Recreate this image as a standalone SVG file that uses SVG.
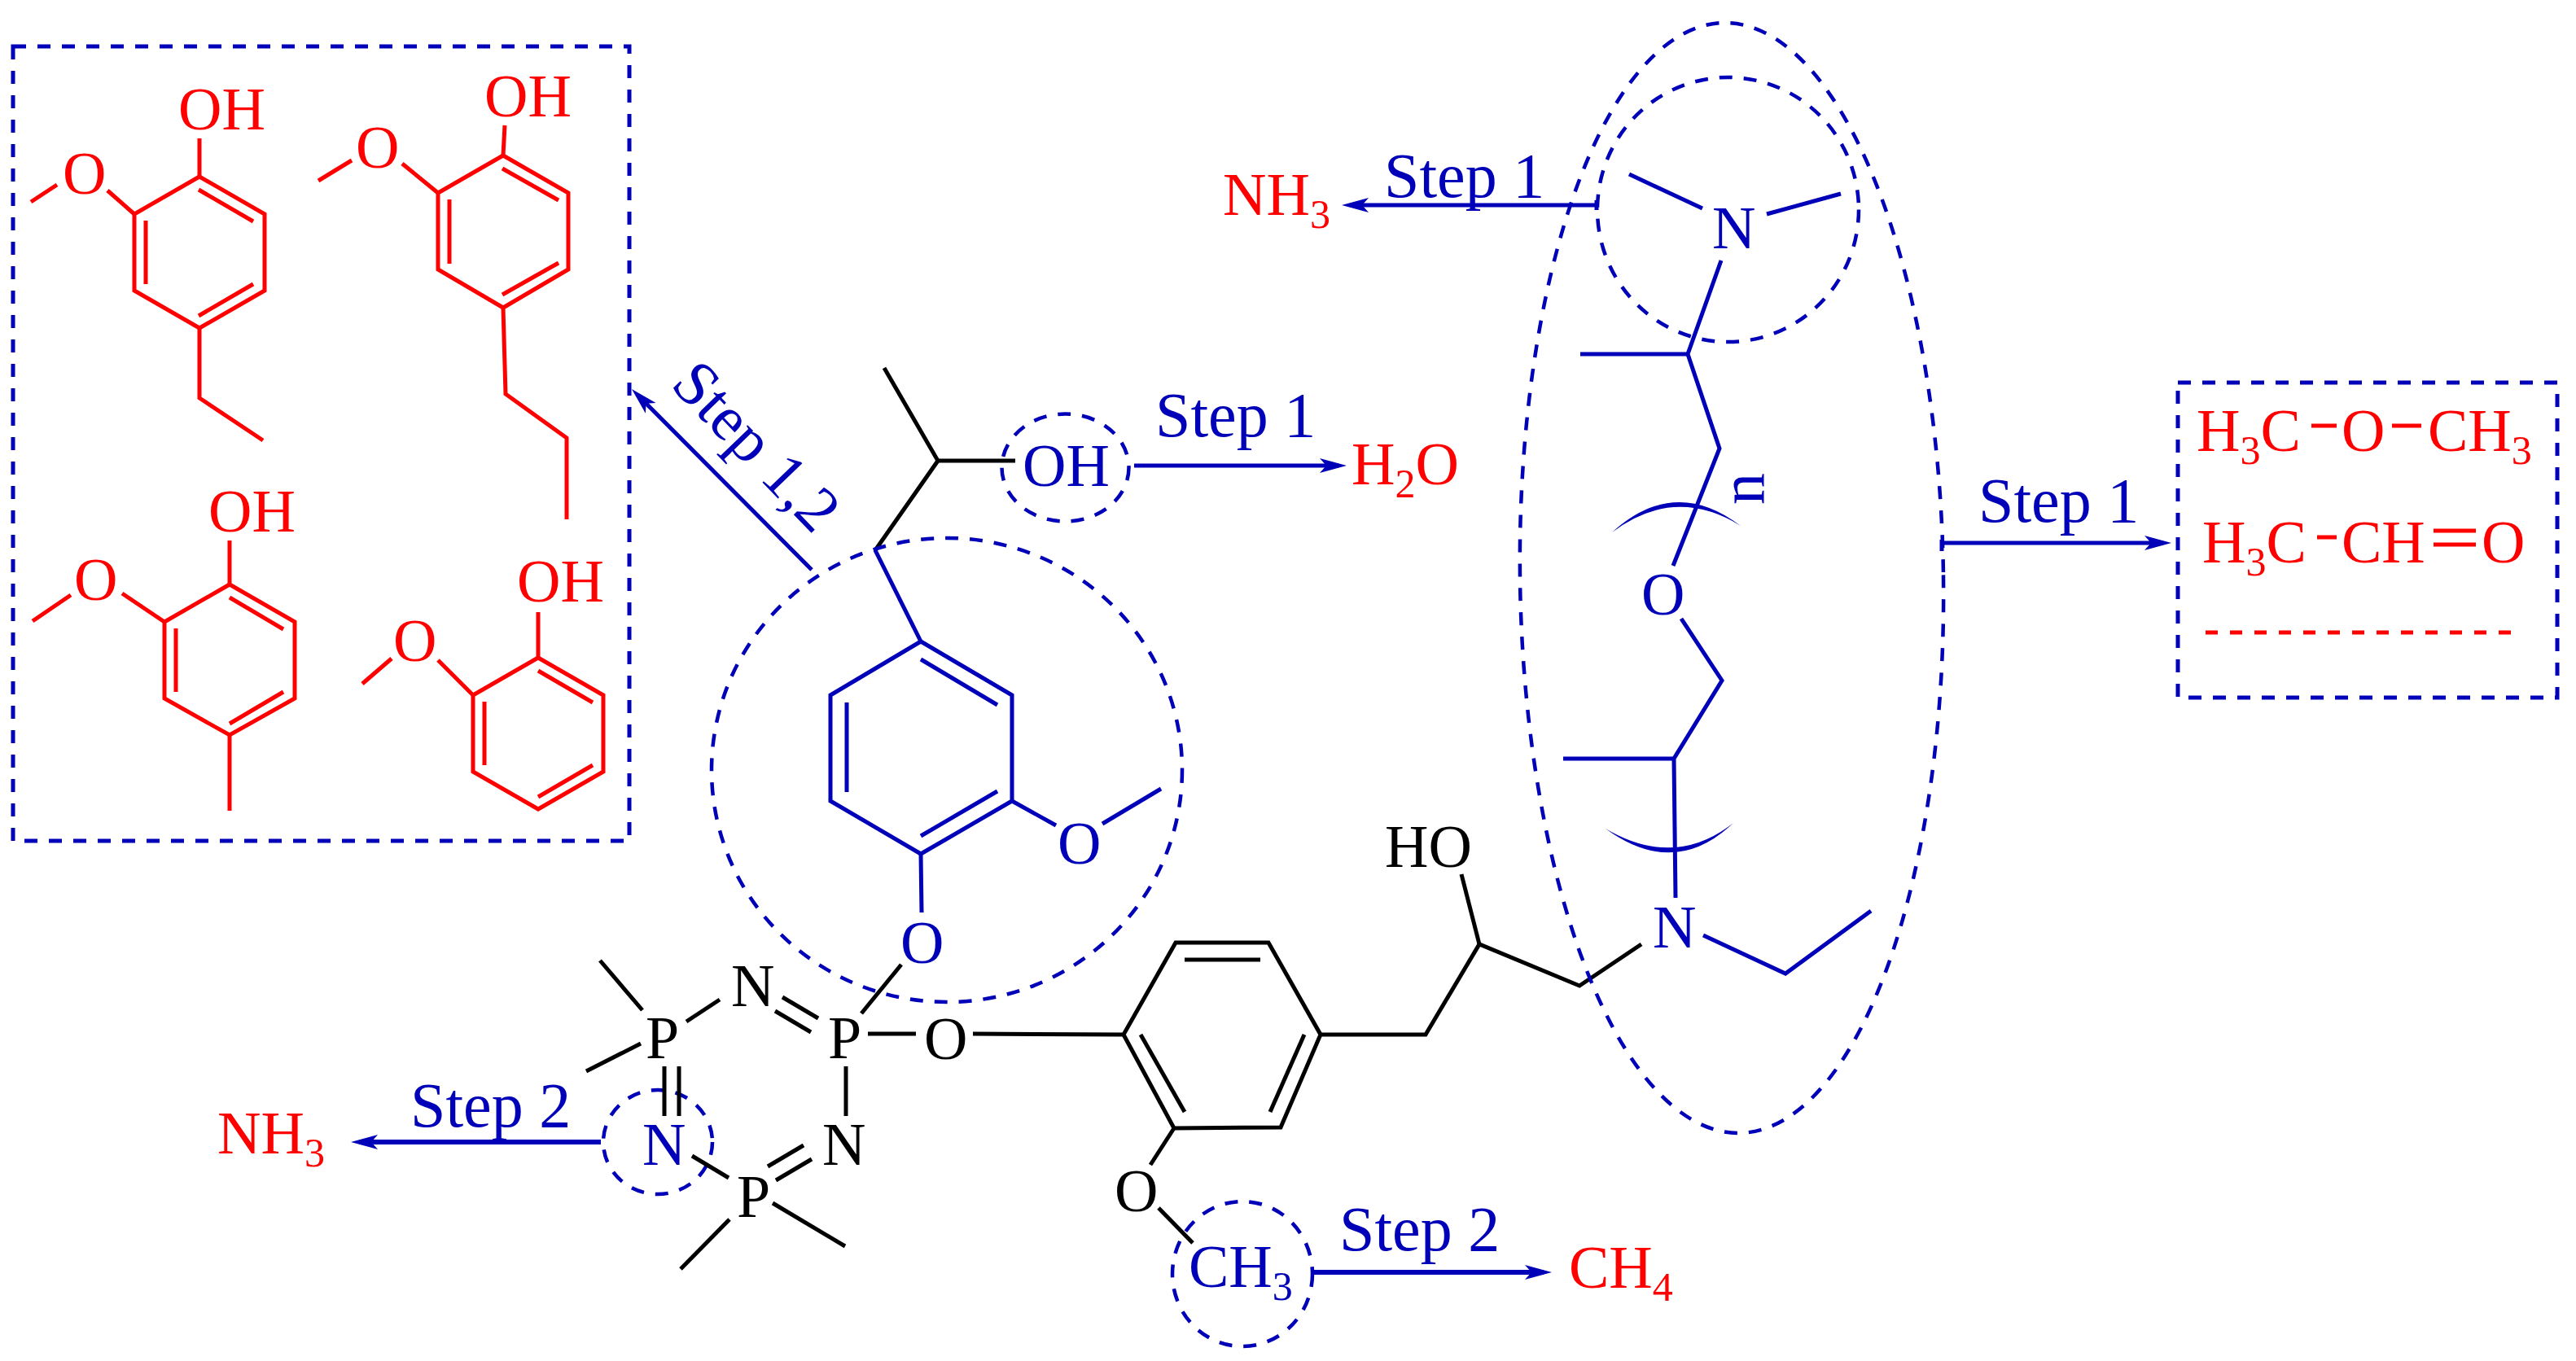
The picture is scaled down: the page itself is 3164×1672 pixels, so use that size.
<svg xmlns="http://www.w3.org/2000/svg" width="3164" height="1672" viewBox="0 0 3164 1672">
<style>
text{font-family:"Liberation Serif","Times New Roman",serif;font-size:74px}
.k{fill:#000}.u{fill:#0000b8}.r{fill:#f00}
.s{font-size:50px}
.st{font-size:78px}
line,polyline,polygon.p{fill:none;stroke-width:5;stroke-linecap:butt;stroke-linejoin:miter}
.bk{stroke:#000}.bu{stroke:#0000b8}.br{stroke:#f00}
.d{fill:none;stroke:#0000b8;stroke-width:4.5;stroke-dasharray:16 14}
.box{fill:none;stroke:#0000b8;stroke-width:5;stroke-dasharray:16 14}
.th{stroke-width:6}
.ah{fill:#0000b8}
</style>
<defs>
<marker id="ah" markerUnits="userSpaceOnUse" markerWidth="40" markerHeight="24" refX="23" refY="12" orient="auto"><path class="ah" d="M33,12L0,3L8,12L0,21Z"/></marker>
</defs>
<g id="product-box-left">
<rect class="box" x="16" y="57" width="757" height="976"/>
</g>
<g id="guaiacol-ethyl">
<polygon class="p br" points="245,217 325,263 325,357 245,403 165,357 165,263"/>
<polyline class="br" points="245,403 245,489 323,541"/>
<line class="br" x1="245" y1="170" x2="245" y2="217"/>
<line class="br" x1="244" y1="233" x2="311" y2="272"/>
<line class="br" x1="179" y1="271" x2="179" y2="349"/>
<line class="br" x1="244" y1="388" x2="311" y2="349"/>
<line class="br" x1="132" y1="234" x2="165" y2="263"/>
<line class="br" x1="38" y1="248" x2="70" y2="227"/>
<text class="r" x="219" y="159">OH</text>
<text class="r" x="77" y="238">O</text>
</g>
<g id="guaiacol-propyl">
<polygon class="p br" points="618,191 698,237 698,331 618,378 538,331 538,237"/>
<polyline class="br" points="618,378 621,484 696,538 696,638"/>
<line class="br" x1="620" y1="154" x2="618" y2="191"/>
<line class="br" x1="617" y1="207" x2="686" y2="246"/>
<line class="br" x1="552" y1="245" x2="552" y2="324"/>
<line class="br" x1="617" y1="362" x2="686" y2="323"/>
<line class="br" x1="494" y1="201" x2="538" y2="237"/>
<line class="br" x1="391" y1="222" x2="432" y2="197"/>
<text class="r" x="595" y="143">OH</text>
<text class="r" x="437" y="206">O</text>
</g>
<g id="guaiacol-methyl">
<polygon class="p br" points="282,718 362,764 362,858 282,903 202,858 202,764"/>
<line class="br" x1="282" y1="903" x2="282" y2="996"/>
<line class="br" x1="282" y1="664" x2="282" y2="718"/>
<line class="br" x1="282" y1="734" x2="348" y2="773"/>
<line class="br" x1="216" y1="772" x2="216" y2="850"/>
<line class="br" x1="282" y1="889" x2="348" y2="850"/>
<line class="br" x1="150" y1="729" x2="202" y2="764"/>
<line class="br" x1="40" y1="763" x2="87" y2="731"/>
<text class="r" x="256" y="653">OH</text>
<text class="r" x="91" y="737">O</text>
</g>
<g id="guaiacol">
<polygon class="p br" points="661,808 741,854 741,948 661,994 581,948 581,854"/>
<line class="br" x1="661" y1="752" x2="661" y2="808"/>
<line class="br" x1="661" y1="824" x2="728" y2="863"/>
<line class="br" x1="595" y1="862" x2="595" y2="940"/>
<line class="br" x1="661" y1="979" x2="728" y2="940"/>
<line class="br" x1="538" y1="811" x2="581" y2="854"/>
<line class="br" x1="445" y1="840" x2="481" y2="809"/>
<text class="r" x="635" y="739">OH</text>
<text class="r" x="483" y="812">O</text>
</g>
<g id="lignin-side-chain">
<polyline class="bk" points="1086,452 1152,566 1075,676"/>
<line class="bk" x1="1152" y1="566" x2="1247" y2="566"/>
<text class="u" x="1256" y="597">OH</text>
<ellipse class="d" cx="1308.5" cy="574.5" rx="78" ry="66"/>
</g>
<g id="methoxyphenyl">
<ellipse class="d" cx="1163" cy="946" rx="289" ry="285"/>
<line class="bu" x1="1075" y1="676" x2="1131" y2="788"/>
<polygon class="p bu" points="1131,788 1243,854 1243,984 1131,1049 1020,984 1020,854"/>
<line class="bu" x1="1131" y1="810" x2="1225" y2="866"/>
<line class="bu" x1="1040" y1="863" x2="1040" y2="973"/>
<line class="bu" x1="1131" y1="1027" x2="1225" y2="972"/>
<line class="bu" x1="1243" y1="984" x2="1297" y2="1014"/>
<line class="bu" x1="1354" y1="1012" x2="1426" y2="969"/>
<line class="bu" x1="1131" y1="1049" x2="1132" y2="1121"/>
<text class="u" x="1299" y="1061">O</text>
<text class="u" x="1106" y="1183">O</text>
</g>
<g id="phosphazene-ring">
<ellipse class="d" cx="808" cy="1403" rx="67" ry="64"/>
<text class="k" x="793" y="1300">P</text>
<text class="k" x="898" y="1236">N</text>
<text class="k" x="1017" y="1300">P</text>
<text class="k" x="1010" y="1431">N</text>
<text class="k" x="905" y="1495">P</text>
<text class="u" x="789" y="1431">N</text>
<line class="bk" x1="737" y1="1180" x2="789" y2="1241"/>
<line class="bk" x1="720" y1="1316" x2="787" y2="1282"/>
<line class="bk" x1="843" y1="1255" x2="884" y2="1228"/>
<line class="bk" x1="961" y1="1225" x2="1005" y2="1251"/>
<line class="bk" x1="952" y1="1242" x2="996" y2="1268"/>
<line class="bk" x1="1058" y1="1245" x2="1107" y2="1185"/>
<line class="bk" x1="1066" y1="1270" x2="1125" y2="1270"/>
<line class="bk" x1="1039" y1="1310" x2="1039" y2="1371"/>
<line class="bk" x1="816" y1="1310" x2="816" y2="1371"/>
<line class="bk" x1="834" y1="1310" x2="834" y2="1371"/>
<line class="bk" x1="850" y1="1420" x2="895" y2="1447"/>
<line class="bk" x1="987" y1="1407" x2="943" y2="1433"/>
<line class="bk" x1="997" y1="1424" x2="953" y2="1450"/>
<line class="bk" x1="896" y1="1498" x2="836" y2="1559"/>
<line class="bk" x1="949" y1="1478" x2="1038" y2="1531"/>
</g>
<g id="aryl-linker">
<text class="k" x="1135" y="1301">O</text>
<line class="bk" x1="1195" y1="1270" x2="1380" y2="1271"/>
<polygon class="p bk" points="1444,1158 1558,1158 1622,1271 1573,1385 1442,1386 1380,1271"/>
<line class="bk" x1="1455" y1="1179" x2="1548" y2="1179"/>
<line class="bk" x1="1401" y1="1271" x2="1455" y2="1366"/>
<line class="bk" x1="1602" y1="1271" x2="1560" y2="1366"/>
<polyline class="bk" points="1622,1271 1751,1271 1817,1160 1940,1211 2016,1160"/>
<line class="bk" x1="1817" y1="1160" x2="1795" y2="1074"/>
<text class="k" x="1701" y="1065">HO</text>
<line class="bk" x1="1442" y1="1386" x2="1413" y2="1431"/>
<text class="k" x="1369" y="1488">O</text>
<line class="bk" x1="1423" y1="1484" x2="1465" y2="1527"/>
</g>
<g id="methyl-group">
<ellipse class="d" cx="1526" cy="1565" rx="86" ry="89"/>
<text class="u" x="1460" y="1581">CH<tspan class="s" dy="16">3</tspan></text>
</g>
<g id="polyether-amine">
<ellipse class="d" cx="2127" cy="710" rx="260" ry="682" transform="rotate(-0.8 2127 710)"/>
<ellipse class="d" cx="2122.5" cy="257.5" rx="160.5" ry="162.5"/>
<text class="u" x="2103" y="305">N</text>
<line class="bu" x1="2001" y1="214" x2="2091" y2="256"/>
<line class="bu" x1="2170" y1="263" x2="2261" y2="238"/>
<polyline class="bu" points="2114,320 2073,435 2112,551 2055,695"/>
<line class="bu" x1="1941" y1="435" x2="2073" y2="435"/>
<text class="u" x="2016" y="755">O</text>
<polyline class="bu" points="2065,760 2115,836 2056,932 2058,1103"/>
<line class="bu" x1="1920" y1="932" x2="2056" y2="932"/>
<path class="u" d="M1980,654Q2057,584 2138,646Q2057,596 1980,654Z"/>
<path class="u" d="M1972,1018Q2057,1080 2129,1011Q2057,1068 1972,1018Z"/>
<text class="u" style="font-size:78px" transform="translate(2167,620) rotate(-90)">n</text>
<text class="u" x="2030" y="1164">N</text>
<polyline class="bu" points="2092,1149 2193,1196 2298,1119"/>
</g>
<g id="connectors">
<line class="bu" x1="997" y1="700" x2="783" y2="485" marker-end="url(#ah)"/>
<line class="bu" x1="1393" y1="572" x2="1644" y2="572" marker-end="url(#ah)"/>
<line class="bu" x1="1961" y1="252" x2="1658" y2="252" marker-end="url(#ah)"/>
<line class="bu" x1="1961" y1="246" x2="1961" y2="258"/>
<line class="bu th" x1="738" y1="1403" x2="441" y2="1403" marker-end="url(#ah)"/>
<line class="bu th" x1="1614" y1="1563" x2="1896" y2="1563" marker-end="url(#ah)"/>
<line class="bu" x1="2385" y1="667" x2="2657" y2="667" marker-end="url(#ah)"/>
<line class="bu" x1="2385" y1="663" x2="2385" y2="677"/>
</g>
<g id="labels">
<text class="u st" transform="translate(822,474) rotate(46)">Step 1,2</text>
<text class="u st" x="1419" y="536">Step 1</text>
<text class="u st" x="1700" y="242">Step 1</text>
<text class="u st" x="504" y="1384">Step 2</text>
<text class="u st" x="1645" y="1536">Step 2</text>
<text class="u st" x="2430" y="641">Step 1</text>
</g>
<g id="product-water"><text class="r" x="1660" y="595">H<tspan class="s" dy="16">2</tspan><tspan dy="-16">O</tspan></text></g>
<g id="product-ammonia-top"><text class="r" x="1502" y="264">NH<tspan class="s" dy="16">3</tspan></text></g>
<g id="product-ammonia-bottom"><text class="r" x="267" y="1417">NH<tspan class="s" dy="16">3</tspan></text></g>
<g id="product-methane"><text class="r" x="1927" y="1582">CH<tspan class="s" dy="16">4</tspan></text></g>
<g id="product-box-right">
<rect class="box" x="2675" y="470" width="466" height="387"/>
<text class="r" x="2698" y="554">H<tspan class="s" dy="16">3</tspan><tspan dy="-16">C</tspan><tspan x="2876">O</tspan><tspan x="2982">CH</tspan><tspan class="s" dy="16">3</tspan></text>
<line class="br" x1="2839" y1="523" x2="2870" y2="523"/>
<line class="br" x1="2938" y1="523" x2="2974" y2="523"/>
<text class="r" x="2705" y="691">H<tspan class="s" dy="16">3</tspan><tspan dy="-16">C</tspan><tspan x="2876">CH</tspan><tspan x="3048">O</tspan></text>
<line class="br" x1="2846" y1="660" x2="2870" y2="660"/>
<line class="br" x1="2989" y1="652" x2="3041" y2="652"/>
<line class="br" x1="2989" y1="669" x2="3041" y2="669"/>
<line class="br" stroke-dasharray="15 15" x1="2709" y1="777" x2="3086" y2="777"/>
</g>
</svg>
